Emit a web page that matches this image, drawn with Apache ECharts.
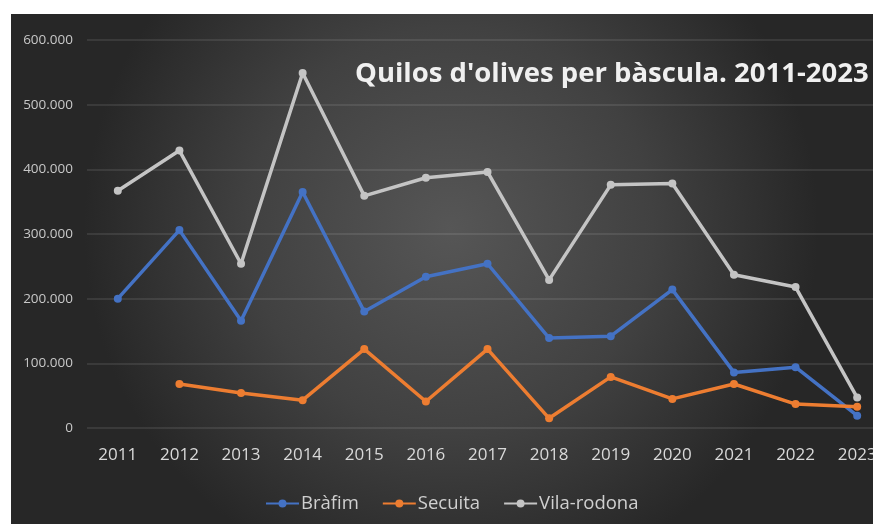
<!DOCTYPE html>
<html>
<head>
<meta charset="utf-8">
<script src="https://cdn.jsdelivr.net/npm/echarts@6/dist/echarts.min.js"></script>
<style>
html,body{margin:0;padding:0;background:#ffffff;overflow:hidden;width:873px;height:524px;}
#chart{width:890px;height:524px;}
</style>
</head>
<body>
<div id="chart"></div>
<script>
var years = ['2011','2012','2013','2014','2015','2016','2017','2018','2019','2020','2021','2022','2023'];
var brafim = [200000, 306000, 166000, 365000, 180000, 234000, 254000, 139000, 142000, 214000, 86000, 94000, 19000];
var secuita = [null, 68000, 54000, 43000, 122000, 41000, 122000, 15000, 79000, 45000, 68000, 37000, 33000];
var vilarodona = [367000, 429000, 254000, 549000, 359000, 387000, 396000, 229000, 376000, 378000, 237000, 218000, 47000];
var seriesNames = ['Bràfim', 'Secuita', 'Vila-rodona'];
var titleText = "Quilos d'olives per bàscula. 2011-2023";

function fmt(v){
  if (v === 0) return '0';
  var s = String(Math.round(v));
  return s.replace(/\B(?=(\d{3})+(?!\d))/g, '.');
}

var chart = echarts.init(document.getElementById('chart'), null, {renderer:'canvas'});
var colors = ['#4472c4', '#ed7d31', '#c4c4c4'];

function mk(name, data, color){
  return {
    name: name, type: 'line', data: data,
    symbol: 'circle', symbolSize: 8,
    lineStyle: {width: 3.5, color: color},
    itemStyle: {color: color},
    connectNulls: false,
    z: 3
  };
}

chart.setOption({
  animation: false,
  backgroundColor: '#ffffff',
  color: colors,
  graphic: [{
    type: 'rect', z: -10, silent: true,
    shape: {x: 11, y: 14, width: 880, height: 510},
    style: {
      fill: new echarts.graphic.RadialGradient(0.5, 0.42, 0.72, [
        {offset: 0, color: '#565656'},
        {offset: 0.55, color: '#414141'},
        {offset: 1, color: '#272727'}
      ])
    }
  }],
  title: {
    text: titleText,
    left: 355, top: 58, padding: 0,
    textStyle: {color: '#f0f0f0', fontFamily: 'Open Sans', fontWeight: 'bold', fontSize: 27.5, lineHeight: 32}
  },
  legend: {
    data: seriesNames,
    left: 265, top: 494, padding: 0,
    itemWidth: 33, itemHeight: 10, itemGap: 23,
    textStyle: {color: '#d0d0d0', fontFamily: 'Open Sans', fontSize: 18.5, padding: [0, 0, 0, -3]}
  },
  grid: {left: 87, top: 40, width: 801, height: 388, containLabel: false},
  xAxis: {
    type: 'category', data: years, boundaryGap: true,
    axisLine: {show: false}, axisTick: {show: false},
    axisLabel: {color: '#d9d9d9', fontFamily: 'Open Sans', fontSize: 17, margin: 19, interval: 0}
  },
  yAxis: {
    type: 'value', min: 0, max: 600000, interval: 100000,
    axisLine: {show: false}, axisTick: {show: false},
    axisLabel: {color: '#c8c8c8', fontFamily: 'Open Sans', fontSize: 13.5, margin: 14, formatter: fmt},
    splitLine: {lineStyle: {color: 'rgba(255,255,255,0.12)', width: 1.5}}
  },
  series: [
    mk(seriesNames[0], brafim, colors[0]),
    mk(seriesNames[1], secuita, colors[1]),
    mk(seriesNames[2], vilarodona, colors[2])
  ]
});
</script>
</body>
</html>
